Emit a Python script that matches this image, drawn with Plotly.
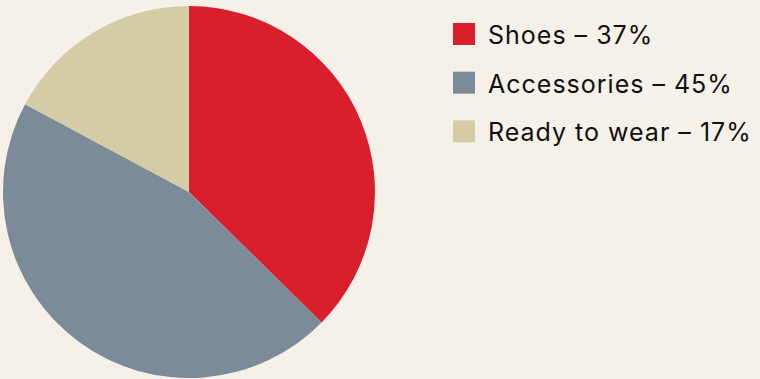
import plotly.graph_objects as go

labels = ["Shoes", "Accessories", "Ready to wear"]
values = [37, 45, 17]
colors = ["#d91f2b", "#7b8b9a", "#d4cca5"]

BG = "#f5f0e8"
W, H = 760, 379

fig = go.Figure()
fig.add_trace(go.Pie(
    labels=labels,
    values=values,
    sort=False,
    direction="clockwise",
    rotation=0,
    marker=dict(colors=colors, line=dict(width=0)),
    textinfo="none",
    hoverinfo="label+percent",
    showlegend=False,
    domain=dict(x=[3 / W, 375 / W], y=[1 / H, 373 / H]),
))

# Custom legend: coloured squares with "label – value%" text
sq = 22
x0 = 453
y_top = 23
step = 48.7
shapes = []
annotations = []
for i, (lab, val, col) in enumerate(zip(labels, values, colors)):
    y = y_top + i * step
    shapes.append(dict(
        type="rect", xref="paper", yref="paper",
        x0=x0 / W, x1=(x0 + sq) / W,
        y0=1 - (y + sq) / H, y1=1 - y / H,
        fillcolor=col, line=dict(width=0),
    ))
    annotations.append(dict(
        xref="paper", yref="paper",
        x=486 / W, y=1 - (y + sq / 2 + 1) / H,
        xanchor="left", yanchor="middle",
        text=f"<span style='letter-spacing:1px'>{lab} \u2013 {val}%</span>",
        showarrow=False,
        font=dict(family="Inter, sans-serif", size=25, color="#111111"),
    ))

fig.update_layout(
    width=W, height=H,
    margin=dict(l=0, r=0, t=0, b=0),
    paper_bgcolor=BG,
    plot_bgcolor=BG,
    shapes=shapes,
    annotations=annotations,
)

fig.write_html("out.html")
